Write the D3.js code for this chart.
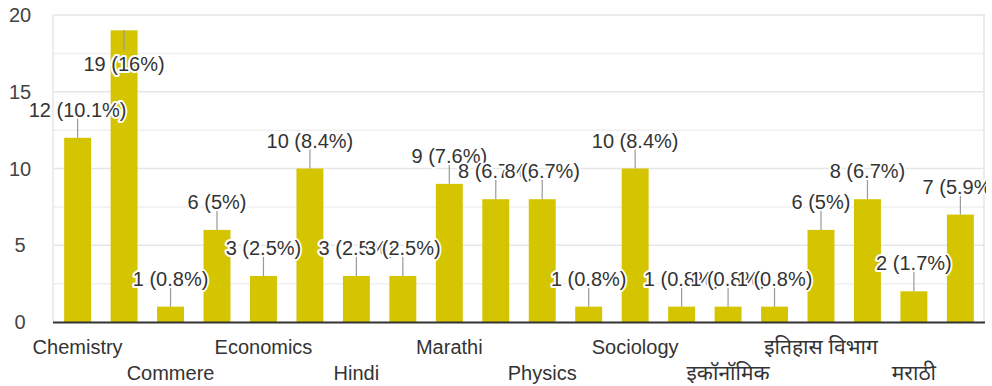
<!DOCTYPE html>
<html>
<head>
<meta charset="utf-8">
<script src="https://cdn.jsdelivr.net/npm/d3@7"></script>
<style>
  html, body { margin: 0; padding: 0; background: #fff; }
  svg { display: block; }
  text { font-family: "Liberation Sans", Arial, "Noto Sans", sans-serif; }
</style>
</head>
<body>
<svg id="chart" width="992" height="386"></svg>
<script>
// ---- data ----
const categories = [
  "Chemistry", "Commerce", "Commere", "Computer Science", "Economics",
  "English", "Hindi", "History", "Marathi", "Mathematics",
  "Physics", "Political Science", "Sociology", "Zoology", "इकॉनॉमिक",
  "इतिहास", "इतिहास विभाग", "भूगोल", "मराठी", "हिंदी"
];
const counts = [12, 19, 1, 6, 3, 10, 3, 3, 9, 8, 8, 1, 10, 1, 1, 1, 6, 8, 2, 7];
const percentLabels = ["10.1%", "16%", "0.8%", "5%", "2.5%", "8.4%", "2.5%", "2.5%", "7.6%", "6.7%",
                       "6.7%", "0.8%", "8.4%", "0.8%", "0.8%", "0.8%", "5%", "6.7%", "1.7%", "5.9%"];
const yTicks = [0, 5, 10, 15, 20];
const yGrid = [2.5, 5, 7.5, 10, 12.5, 15, 17.5, 20];

// ---- layout ----
const W = 992, H = 386;
const plot = { left: 53, right: 985, top: 15, bottom: 322 };
const svg = d3.select("#chart");

const x = d3.scaleBand()
  .domain(d3.range(categories.length))
  .range([plot.left, plot.right])
  .paddingInner(0.42)
  .paddingOuter(0.24);

const y = d3.scaleLinear().domain([0, 20]).range([plot.bottom, plot.top]);

svg.append("defs").append("clipPath").attr("id", "clipR")
  .append("rect").attr("x", 0).attr("y", 0).attr("width", 986).attr("height", H);

// gridlines
svg.append("g").selectAll("line").data(yGrid).join("line")
  .attr("x1", plot.left).attr("x2", plot.right)
  .attr("y1", d => y(d)).attr("y2", d => y(d))
  .attr("stroke", d => d % 5 === 0 ? "#e6e6e6" : "#efefef").attr("stroke-width", 1.5);

// frame sides
svg.append("line").attr("x1", plot.left).attr("x2", plot.left)
  .attr("y1", plot.top).attr("y2", plot.bottom).attr("stroke", "#e6e6e6").attr("stroke-width", 1.5);
svg.append("line").attr("x1", plot.right - 1).attr("x2", plot.right - 1)
  .attr("y1", plot.top).attr("y2", plot.bottom).attr("stroke", "#e6e6e6").attr("stroke-width", 1.5);

// y tick labels
svg.append("g").selectAll("text").data(yTicks).join("text")
  .attr("x", 20).attr("y", d => y(d))
  .attr("text-anchor", "middle").attr("dominant-baseline", "central")
  .attr("font-size", 20).attr("fill", "#444")
  .text(d => d);

// bars
svg.append("g").selectAll("rect").data(counts).join("rect")
  .attr("x", (d, i) => x(i)).attr("width", x.bandwidth())
  .attr("y", d => y(d)).attr("height", d => y(0) - y(d))
  .attr("fill", "#d4c500");

// baseline
svg.append("line").attr("x1", plot.left).attr("x2", plot.right)
  .attr("y1", y(0) + 0.5).attr("y2", y(0) + 0.5)
  .attr("stroke", "#333").attr("stroke-width", 2);

// data labels with leader lines
const ann = svg.append("g").attr("clip-path", "url(#clipR)");
counts.forEach((v, i) => {
  const cx = x(i) + x.bandwidth() / 2;
  const top = y(v);
  const above = top - 38 > plot.top - 2;
  const g = ann.append("g");
  g.append("line").attr("x1", cx).attr("x2", cx)
    .attr("y1", top).attr("y2", above ? top - 20 : top + 20)
    .attr("stroke", "#999").attr("stroke-width", 1.2);
  g.append("text")
    .attr("x", cx).attr("y", above ? top - 28 : top + 34)
    .attr("text-anchor", "middle").attr("dominant-baseline", "central")
    .attr("font-size", 20).attr("fill", "#333")
    .attr("stroke", "#fff").attr("stroke-width", 4).attr("stroke-linejoin", "round")
    .attr("paint-order", "stroke")
    .text(`${v} (${percentLabels[i]})`);
});

// x labels: every other category, alternating rows
const isDeva = s => /[\u0900-\u097F]/.test(s);
svg.append("g").selectAll("text")
  .data(categories.map((c, i) => ({ c, i })).filter(d => d.i % 2 === 0))
  .join("text")
  .attr("x", d => x(d.i) + x.bandwidth() / 2)
  .attr("y", d => (d.i / 2) % 2 === 0 ? 354 : 380)
  .attr("text-anchor", "middle")
  .attr("font-size", d => isDeva(d.c) ? 21 : 20).attr("fill", "#333")
  .text(d => d.c);
</script>
</body>
</html>
